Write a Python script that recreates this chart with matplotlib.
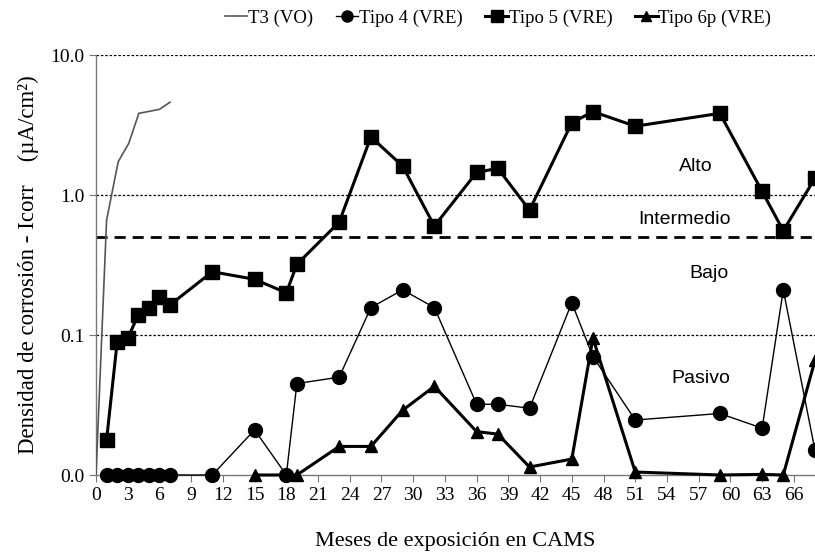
import matplotlib
matplotlib.use("Agg")
import matplotlib.pyplot as plt
from matplotlib.ticker import FixedLocator, FixedFormatter, NullLocator

# T3 (VO) - thin line, no markers
t3_mes = [0, 1, 2.1, 3.1, 4.05, 6, 7]
t3_val = [0.01, 0.66, 1.73, 2.34, 3.83, 4.09, 4.6]

# Tipo 4 (VRE)
t4_mes = [1, 2, 3, 4, 5, 6, 7, 11, 15, 18, 19, 23, 26, 29, 32, 36, 38, 41, 45, 47, 51, 59, 63, 65, 68]
t4_val = [0.01, 0.01, 0.01, 0.01, 0.01, 0.01, 0.01, 0.01, 0.021, 0.01, 0.045, 0.05,
          0.157, 0.21, 0.157, 0.032, 0.032, 0.030, 0.17, 0.07, 0.0247, 0.0275, 0.0216, 0.21, 0.015]

# Tipo 5 (VRE)
t5_mes = [1, 2, 3, 4, 5, 6, 7, 11, 15, 18, 19, 23, 26, 29, 32, 36, 38, 41, 45, 47, 51, 59, 63, 65, 68]
t5_val = [0.0178, 0.089, 0.095, 0.139, 0.155, 0.188, 0.164, 0.283, 0.25, 0.2, 0.32, 0.64,
          2.6, 1.61, 0.60, 1.45, 1.55, 0.78, 3.28, 3.94, 3.1, 3.83, 1.06, 0.556, 1.32]

# Tipo 6p (VRE)
t6_mes = [15, 19, 23, 26, 29, 32, 36, 38, 41, 45, 47, 51, 59, 63, 65, 68]
t6_val = [0.01, 0.01, 0.016, 0.016, 0.029, 0.043, 0.0204, 0.0196, 0.0114, 0.013,
          0.095, 0.0105, 0.01, 0.0101, 0.01, 0.066]

x_ticks = list(range(0, 67, 3))
y_ticks = [0.01, 0.1, 1.0, 10.0]
y_labels = ["0.0", "0.1", "1.0", "10.0"]

zonas = [("Alto", 56.7, 1.585), ("Intermedio", 55.7, 0.663), ("Bajo", 58.0, 0.277), ("Pasivo", 57.2, 0.049)]

plt.rcParams["font.family"] = ["Liberation Serif", "DejaVu Serif"]

fig = plt.figure(figsize=(8.15, 5.58), dpi=100)
ax = fig.add_axes([96 / 815, 1 - 475 / 558, 1 - 96 / 815, (475 - 55) / 558])

# reference lines
for v in [1.0, 0.1, 10.0]:
    ax.axhline(v, color="black", lw=0.9, ls=(0, (2, 1.5)), zorder=1)
ax.axhline(0.5, color="black", lw=2.0, ls=(0, (4, 2.5)), zorder=1)

ax.plot(t3_mes, t3_val, color="#555555", lw=1.2, label="T3 (VO)", zorder=3)
ax.plot(t4_mes, t4_val, color="black", lw=1.0, marker="o", ms=10, label="Tipo 4 (VRE)",
        zorder=4, clip_on=False)
ax.plot(t5_mes, t5_val, color="black", lw=2.2, marker="s", ms=10, label="Tipo 5 (VRE)",
        zorder=5, clip_on=False)
ax.plot(t6_mes, t6_val, color="black", lw=2.2, marker="^", ms=9, label="Tipo 6p (VRE)",
        zorder=6, clip_on=False)

ax.set_yscale("log")
ax.set_ylim(0.01, 10)
ax.set_xlim(0, 68)
ax.yaxis.set_major_locator(FixedLocator(y_ticks))
ax.yaxis.set_major_formatter(FixedFormatter(y_labels))
ax.yaxis.set_minor_locator(NullLocator())
ax.set_xticks(x_ticks)

for s in ["top", "right"]:
    ax.spines[s].set_visible(False)
for s in ["left", "bottom"]:
    ax.spines[s].set_color("#777777")
    ax.spines[s].set_linewidth(1.0)
ax.tick_params(axis="both", colors="#777777", labelcolor="black", labelsize=14, length=5)

for txt, xm, yv in zonas:
    ax.text(xm, yv, txt, ha="center", va="center", fontsize=14,
            family=["Liberation Sans", "DejaVu Sans"])

ax.set_xlabel("Meses de exposición en CAMS", fontsize=16, labelpad=20)
ax.set_ylabel("Densidad de corrosión - Icorr    (µA/cm²)", fontsize=16.5, labelpad=8)

fig.legend(loc="center", bbox_to_anchor=(498 / 815, 1 - 18 / 558), ncol=4, frameon=False,
           fontsize=13.5, handlelength=1.2, handletextpad=0.05, columnspacing=1.2, markerscale=0.8)

fig.savefig("out.png", dpi=100)
